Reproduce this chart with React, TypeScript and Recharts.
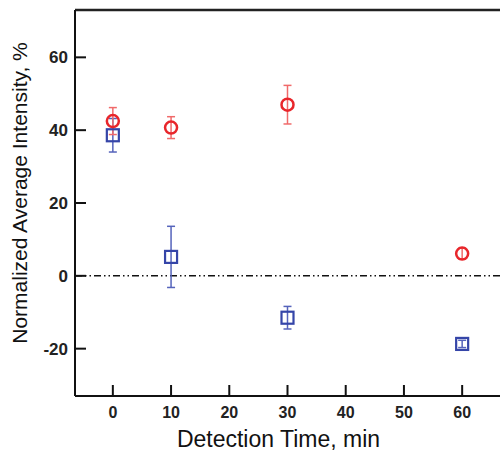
import { ScatterChart, Scatter, XAxis, YAxis, ErrorBar, ReferenceLine } from 'recharts'

document.body.style.margin = '0'

const times = [0, 10, 30, 60]
const redMeans = [42.5, 40.7, 47.0, 6.1]
const redErr = [3.7, 3.0, 5.3, 1.5]
const blueMeans = [38.6, 5.2, -11.5, -18.7]
const blueErr = [4.6, 8.4, 3.1, 1.0]

const xTicks = [0, 10, 20, 30, 40, 50, 60]
const yTicks = [-20, 0, 20, 40, 60]

const redData = times.map((t, i) => ({ t, v: redMeans[i], err: redErr[i] }))
const blueData = times.map((t, i) => ({ t, v: blueMeans[i], err: blueErr[i] }))

const RED = '#e8262b'
const BLUE = '#3545a8'
const FONT = 'Liberation Sans, Arial, sans-serif'
const xTickStyle = { fontSize: 16, fontWeight: 700, fill: '#222', fontFamily: FONT }
const yTickStyle = { fontSize: 17, fontWeight: 700, fill: '#222', fontFamily: FONT }

const Circle = (props: any) => (
  <circle cx={props.cx} cy={props.cy} r={6} fill="none" stroke={RED} strokeWidth={2.5} />
)

const Square = (props: any) => (
  <rect x={props.cx - 6} y={props.cy - 6} width={12} height={12} fill="none" stroke={BLUE} strokeWidth={2.2} />
)

export default function App() {
  return (
    <ScatterChart width={500} height={453} margin={{ top: 10, right: 0, left: 0, bottom: 0 }}>
      <XAxis
        type="number"
        dataKey="t"
        domain={[-6.5, 66.5]}
        ticks={xTicks}
        allowDataOverflow
        height={57}
        tickSize={-11}
        tickMargin={22}
        tick={xTickStyle}
        axisLine={{ stroke: '#111', strokeWidth: 2 }}
        tickLine={{ stroke: '#111', strokeWidth: 2 }}
        label={{
          content: ({ viewBox }: any) => (
            <text
              x={viewBox.x + viewBox.width / 2 - 9}
              y={viewBox.y + viewBox.height - 6}
              textAnchor="middle"
              fontSize={23}
              fill="#111"
              fontFamily={FONT}
            >
              Detection Time, min
            </text>
          ),
        }}
      />
      <YAxis
        type="number"
        dataKey="v"
        domain={[-33, 73]}
        ticks={yTicks}
        allowDataOverflow
        width={75}
        tickSize={-11}
        tickMargin={18}
        tick={yTickStyle}
        axisLine={{ stroke: '#111', strokeWidth: 2 }}
        tickLine={{ stroke: '#111', strokeWidth: 2 }}
        label={{
          content: ({ viewBox }: any) => {
            const x = viewBox.x + 27
            const y = viewBox.y + viewBox.height / 2 - 10
            return (
              <text
                x={x}
                y={y}
                transform={`rotate(-90 ${x} ${y})`}
                textAnchor="middle"
                fontSize={21}
                fill="#111"
                fontFamily={FONT}
              >
                Normalized Average Intensity, %
              </text>
            )
          },
        }}
      />
      <ReferenceLine y={73} stroke="#222" strokeWidth={2.5} ifOverflow="visible" />
      <ReferenceLine y={0} stroke="#111" strokeWidth={1.5} strokeDasharray="7 3 1.5 3 1.5 3" />
      <Scatter data={blueData} shape={Square} isAnimationActive={false}>
        <ErrorBar dataKey="err" direction="y" width={4} stroke="#5563bb" strokeWidth={1.5} isAnimationActive={false} />
      </Scatter>
      <Scatter data={redData} shape={Circle} isAnimationActive={false}>
        <ErrorBar dataKey="err" direction="y" width={4} stroke="#f06a6a" strokeWidth={1.5} isAnimationActive={false} />
      </Scatter>
    </ScatterChart>
  )
}
